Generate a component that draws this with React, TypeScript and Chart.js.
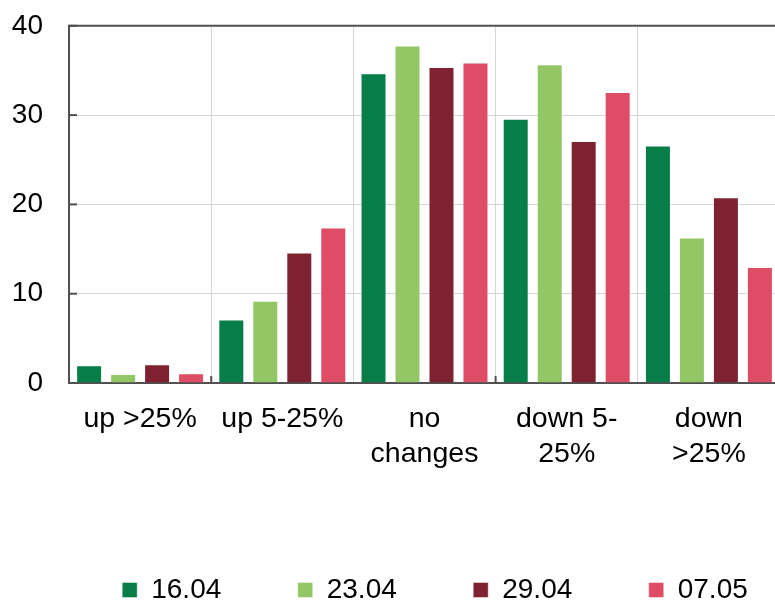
import React, { useEffect, useRef } from "react";
import { Chart, registerables } from "chart.js";

Chart.register(...registerables);

const categories: (string | string[])[] = [
  "up >25%",
  "up 5-25%",
  ["no", "changes"],
  ["down 5-", "25%"],
  ["down", ">25%"],
];
const seriesLabels = ["16.04", "23.04", "29.04", "07.05"];
const s1604 = [2.0, 7.1, 34.7, 29.6, 26.6];
const s2304 = [1.0, 9.2, 37.8, 35.7, 16.3];
const s2904 = [2.1, 14.6, 35.4, 27.1, 20.8];
const s0705 = [1.1, 17.4, 35.9, 32.6, 13.0];
const yTicks = [0, 10, 20, 30, 40];

const colors = ["#077d48", "#93c766", "#7e2232", "#de4c66"];
const FONT = "'Liberation Sans', Arial, sans-serif";
const AXIS = "#505050";
const GRID = "#d3d6d9";

const framePlugin = {
  id: "frame",
  afterDraw(chart: any) {
    const { ctx, chartArea } = chart;
    const y = chart.scales.y;
    const x = chart.scales.x;
    ctx.save();
    ctx.strokeStyle = AXIS;
    ctx.lineWidth = 2;
    ctx.beginPath();
    ctx.moveTo(chartArea.left - 1, chartArea.top);
    ctx.lineTo(chartArea.right, chartArea.top);
    ctx.stroke();
    yTicks.forEach((v) => {
      const py = y.getPixelForValue(v);
      ctx.beginPath();
      ctx.moveTo(chartArea.left, py);
      ctx.lineTo(chartArea.left + 8, py);
      ctx.stroke();
    });
    const n = categories.length;
    for (let i = 1; i < n; i += 2) {
      const px = (x.getPixelForValue(i - 1) + x.getPixelForValue(i)) / 2;
      ctx.beginPath();
      ctx.moveTo(px, chartArea.bottom);
      ctx.lineTo(px, chartArea.bottom - 7);
      ctx.stroke();
    }
    ctx.restore();
  },
};

export default function App() {
  const ref = useRef<HTMLCanvasElement>(null);
  useEffect(() => {
    if (!ref.current) return;
    const data = [s1604, s2304, s2904, s0705];
    const chart = new Chart(ref.current, {
      type: "bar",
      data: {
        labels: categories,
        datasets: seriesLabels.map((label, i) => ({
          label,
          data: data[i],
          backgroundColor: colors[i],
          borderColor: "rgba(255,255,255,0.45)",
          borderWidth: 1,
          categoryPercentage: 0.956,
          barPercentage: 0.765,
        })),
      },
      options: {
        responsive: false,
        animation: false,
        devicePixelRatio: 1,
        layout: { padding: { top: 8, left: 0, right: 0, bottom: 0 } },
        plugins: {
          tooltip: { enabled: false },
          legend: {
            position: "bottom",
            labels: {
              boxWidth: 15,
              boxHeight: 15,
              padding: 76.44,
              color: "#000",
              font: { family: FONT, size: 28 },
            },
          },
        },
        scales: {
          x: {
            grid: { color: GRID, lineWidth: 1, drawTicks: false, offset: true },
            border: { color: AXIS, width: 2 },
            ticks: {
              color: "#000",
              padding: 19,
              maxRotation: 0,
              autoSkip: false,
              font: { family: FONT, size: 28.5, lineHeight: 1.23 },
            },
            afterFit: (s: any) => {
              s.height = 116.56;
            },
          },
          y: {
            min: 0,
            max: 40,
            ticks: {
              stepSize: 10,
              color: "#000",
              padding: 26,
              font: { family: FONT, size: 28 },
            },
            grid: { color: GRID, lineWidth: 1, drawTicks: false },
            border: { color: AXIS, width: 2 },
            afterFit: (s: any) => {
              s.width = 69;
            },
          },
          yR: {
            position: "right",
            display: true,
            ticks: { display: false },
            grid: { display: false, drawTicks: false },
            border: { display: false },
            afterFit: (s: any) => {
              s.width = 90;
            },
          },
        },
      },
      plugins: [framePlugin],
    } as any);
    return () => chart.destroy();
  }, []);
  return (
    <div
      style={{
        position: "fixed",
        left: 0,
        top: 0,
        width: 775,
        height: 601,
        overflow: "hidden",
        background: "#fff",
      }}
    >
      <canvas
        ref={ref}
        width={870}
        height={631}
        style={{ width: 870, height: 631, display: "block", marginTop: -17 }}
      />
    </div>
  );
}
